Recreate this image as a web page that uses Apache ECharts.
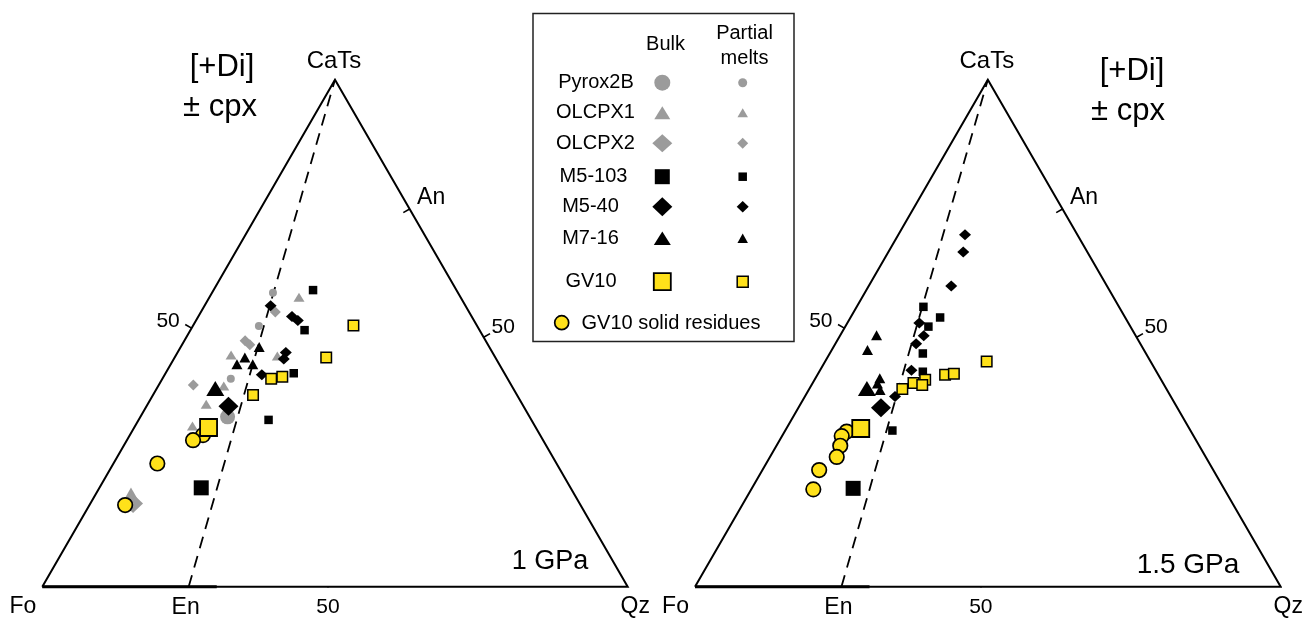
<!DOCTYPE html>
<html>
<head>
<meta charset="utf-8">
<script src="https://cdn.jsdelivr.net/npm/echarts@6/dist/echarts.min.js"></script>
<style>
  html, body { margin: 0; padding: 0; background: #fff; }
  #chart { width: 1309px; height: 620px; }
</style>
</head>
<body>
<div id="chart"></div>
<script>
// Projection from [+Di] onto Fo–Qz–CaTs. Every point is [Qz, CaTs] in percent (Fo = 100 − Qz − CaTs).

// ---- 1 GPa ----
const pyrox2bBulk1 = [[14.9, 33.5]];
const pyrox2bMelt1 = [[10.4, 58.0], [11.3, 51.4], [11.7, 41.0]];
const olcpx1Bulk1  = [[6.1, 18.1]];
const olcpx1Melt1  = [[15.3, 57.1], [9.4, 45.7], [17.4, 45.5], [11.2, 39.6], [10.0, 36.0], [9.8, 31.7]];
const olcpx2Bulk1  = [[7.3, 16.4]];
const olcpx2Melt1  = [[12.7, 54.2], [10.4, 48.5], [11.6, 47.7], [5.9, 39.8]];
const m5103Bulk1   = [[17.4, 19.5]];
const m5103Melt1   = [[17.0, 58.5], [19.5, 50.6], [21.9, 42.1], [22.2, 32.9]];
const m540Bulk1    = [[14.0, 35.6]];
const m540Melt1    = [[11.3, 55.4], [16.0, 53.3], [17.4, 52.5], [18.5, 46.2], [18.8, 44.9], [16.6, 41.8]];
const m716Bulk1    = [[10.0, 39.1]];
const m716Melt1    = [[13.4, 47.3], [11.3, 43.9], [12.0, 45.2], [14.0, 43.9]];
const gv10Bulk1    = [[12.7, 31.4]];
const gv10Melt1    = [[27.4, 51.5], [25.9, 45.2], [18.6, 41.0], [20.3, 41.4], [17.1, 37.8]];
const gv10Resid1   = [[12.5, 29.9], [11.3, 28.9], [7.5, 24.3], [6.1, 16.1]];

// ---- 1.5 GPa ----
const m5103Bulk15  = [[17.3, 19.4]];
const m5103Melt15  = [[11.4, 55.2], [15.3, 53.1], [14.2, 51.3], [15.9, 46.0], [17.7, 42.4], [18.3, 30.8]];
const m540Bulk15   = [[14.1, 35.3]];
const m540Melt15   = [[11.4, 69.4], [12.8, 66.0], [14.1, 59.3], [12.3, 52.0], [14.3, 49.5], [13.8, 47.9], [15.6, 42.7], [15.4, 37.5]];
const m716Bulk15   = [[9.8, 39.1]];
const m716Melt15   = [[6.2, 49.6], [6.1, 46.7], [11.0, 41.1], [11.1, 40.1], [12.2, 38.8]];
const gv10Bulk15   = [[12.7, 31.2]];
const gv10Melt15   = [[27.6, 44.4], [21.8, 41.8], [23.2, 42.0], [18.9, 40.8], [17.2, 40.2], [18.9, 39.8], [15.9, 39.0]];
const gv10Resid15  = [[10.6, 30.6], [10.2, 29.7], [10.9, 27.8], [11.4, 25.6], [9.7, 23.0], [10.6, 19.2]];

// Apex and join labels, tick positions along the edges
const apexNames   = ['Fo', 'Qz', 'CaTs'];
const joinNames   = ['En', 'An'];
const enOnBase    = 25;     // En on the Fo–Qz join (% Qz)
const anOnSide    = 74.5;   // An on the CaTs–Qz join (% CaTs)
const tickBase    = 48.8;   // "50" on the Fo–Qz join
const tickLeft    = 51;     // "50" on the Fo–CaTs join
const tickRight   = 49.2;   // "50" on the CaTs–Qz join
const tickText    = '50';
const panelTitles = ['1 GPa', '1.5 GPa'];
const legendNames = ['Pyrox2B', 'OLCPX1', 'OLCPX2', 'M5-103', 'M5-40', 'M7-16', 'GV10'];

const SQ = Math.sqrt(3) / 2;
const FONT = '"Liberation Sans", Arial, Helvetica, sans-serif';
const GRAY = '#9b9b9b';
const YEL = '#ffe11a';

// ternary [Qz, CaTs] -> cartesian [x, y] with Fo at the origin and Qz at x = 100
function toXY(p) { return [p[0] + p[1] / 2, p[1] * SQ]; }

const STY = {
  pyroxBulk: { symbol: 'circle',   size: 15,       color: GRAY },
  pyroxMelt: { symbol: 'circle',   size: 8,        color: GRAY },
  olc1Bulk:  { symbol: 'triangle', size: [17, 15], color: GRAY },
  olc1Melt:  { symbol: 'triangle', size: [11, 9],  color: GRAY },
  olc2Bulk:  { symbol: 'diamond',  size: [20, 19], color: GRAY },
  olc2Melt:  { symbol: 'diamond',  size: [11, 11], color: GRAY },
  m103Bulk:  { symbol: 'rect',     size: 15,       color: '#000' },
  m103Melt:  { symbol: 'rect',     size: 8.5,      color: '#000' },
  m40Bulk:   { symbol: 'diamond',  size: [20, 19], color: '#000' },
  m40Melt:   { symbol: 'diamond',  size: [12, 11], color: '#000' },
  m16Bulk:   { symbol: 'triangle', size: [18, 15], color: '#000' },
  m16Melt:   { symbol: 'triangle', size: [11, 10], color: '#000' },
  gvBulk:    { symbol: 'rect',     size: 17,       color: YEL, border: 1.8 },
  gvMelt:    { symbol: 'rect',     size: 10.5,     color: YEL, border: 1.5 },
  gvResid:   { symbol: 'circle',   size: 14.5,     color: YEL, border: 1.7 }
};

function pts(name, gi, data, st, z) {
  return {
    name: name, type: 'scatter', xAxisIndex: gi, yAxisIndex: gi,
    data: data.map(toXY), symbol: st.symbol, symbolSize: st.size, z: z,
    itemStyle: { color: st.color, opacity: 1, borderColor: '#000', borderWidth: st.border || 0 },
    silent: true
  };
}

function frameSeries(gi) {
  const s = [];
  const top = toXY([0, 100]);
  s.push({
    type: 'line', xAxisIndex: gi, yAxisIndex: gi, clip: false, silent: true, symbol: 'none', z: 2,
    data: [toXY([0, 0]), toXY([100, 0]), top, toXY([0, 0])],
    lineStyle: { color: '#000', width: 2, join: 'miter' }
  });
  // Fo–En segment drawn slightly heavier
  s.push({
    type: 'line', xAxisIndex: gi, yAxisIndex: gi, clip: false, silent: true, symbol: 'none', z: 2,
    data: [toXY([0, 0]), toXY([29.8, 0])],
    lineStyle: { color: '#000', width: 3 }
  });
  // En–CaTs join
  s.push({
    type: 'line', xAxisIndex: gi, yAxisIndex: gi, clip: false, silent: true, symbol: 'none', z: 2,
    data: [toXY([enOnBase, 0]), top],
    lineStyle: { color: '#000', width: 1.8, type: [12, 8] }
  });
  // edge ticks
  const L = 1.25;
  const ticks = [
    [toXY([tickBase, 0]), [0, -1]],
    [toXY([0, tickLeft]), [-SQ, 0.5]],
    [toXY([100 - tickRight, tickRight]), [SQ, 0.5]],
    [toXY([100 - anOnSide, anOnSide]), [-SQ, -0.5]]
  ];
  s.push({
    type: 'lines', coordinateSystem: 'cartesian2d', xAxisIndex: gi, yAxisIndex: gi, silent: true, z: 2,
    lineStyle: { color: '#000', width: 1.6, opacity: 1, curveness: 0 },
    data: ticks.map(t => ({ coords: [t[0], [t[0][0] + t[1][0] * L, t[0][1] + t[1][1] * L]] }))
  });
  return s;
}

const series = []
  .concat(frameSeries(0), frameSeries(1))
  .concat([
    pts('Pyrox2B', 0, pyrox2bBulk1, STY.pyroxBulk, 5),
    pts('Pyrox2B melts', 0, pyrox2bMelt1, STY.pyroxMelt, 5),
    pts('OLCPX1', 0, olcpx1Bulk1, STY.olc1Bulk, 5),
    pts('OLCPX1 melts', 0, olcpx1Melt1, STY.olc1Melt, 5),
    pts('OLCPX2', 0, olcpx2Bulk1, STY.olc2Bulk, 5),
    pts('OLCPX2 melts', 0, olcpx2Melt1, STY.olc2Melt, 5),
    pts('M5-103', 0, m5103Bulk1, STY.m103Bulk, 6),
    pts('M5-103 melts', 0, m5103Melt1, STY.m103Melt, 6),
    pts('M5-40', 0, m540Bulk1, STY.m40Bulk, 6),
    pts('M5-40 melts', 0, m540Melt1, STY.m40Melt, 6),
    pts('M7-16', 0, m716Bulk1, STY.m16Bulk, 6),
    pts('M7-16 melts', 0, m716Melt1, STY.m16Melt, 6),
    pts('GV10 residues', 0, gv10Resid1, STY.gvResid, 7),
    pts('GV10', 0, gv10Bulk1, STY.gvBulk, 8),
    pts('GV10 melts', 0, gv10Melt1, STY.gvMelt, 8),

    pts('M5-103', 1, m5103Bulk15, STY.m103Bulk, 6),
    pts('M5-103 melts', 1, m5103Melt15, STY.m103Melt, 6),
    pts('M5-40', 1, m540Bulk15, STY.m40Bulk, 6),
    pts('M5-40 melts', 1, m540Melt15, STY.m40Melt, 6),
    pts('M7-16', 1, m716Bulk15, STY.m16Bulk, 6),
    pts('M7-16 melts', 1, m716Melt15, STY.m16Melt, 6),
    pts('GV10 residues', 1, gv10Resid15, STY.gvResid, 7),
    pts('GV10', 1, gv10Bulk15, STY.gvBulk, 8),
    pts('GV10 melts', 1, gv10Melt15, STY.gvMelt, 8)
  ]);

// ---- key box and text ----
function symGraphic(st, cx, cy, w, h) {
  const style = { fill: st.color, stroke: st.border ? '#000' : null, lineWidth: st.border || 0 };
  if (st.symbol === 'circle') return { type: 'circle', shape: { cx: cx, cy: cy, r: w / 2 }, style: style, z: 20 };
  if (st.symbol === 'rect') return { type: 'rect', shape: { x: cx - w / 2, y: cy - h / 2, width: w, height: h }, style: style, z: 20 };
  if (st.symbol === 'triangle') return { type: 'polygon', shape: { points: [[cx, cy - h / 2], [cx + w / 2, cy + h / 2], [cx - w / 2, cy + h / 2]] }, style: style, z: 20 };
  return { type: 'polygon', shape: { points: [[cx, cy - h / 2], [cx + w / 2, cy], [cx, cy + h / 2], [cx - w / 2, cy]] }, style: style, z: 20 };
}
function txt(text, x, y, size, align) {
  return { type: 'text', x: x, y: y, z: 21,
    style: { text: text, fill: '#000', font: size + 'px ' + FONT, align: align || 'center', verticalAlign: 'middle' } };
}

const rowY = [82.7, 112.7, 143.3, 176.7, 206.7, 238.3, 281.7];
const labelX = [596, 595.5, 595.5, 593.5, 590.5, 590.5, 591];
const keyBulk = [
  [STY.pyroxBulk, 16, 16], [STY.olc1Bulk, 16, 13], [STY.olc2Bulk, 20, 18], [STY.m103Bulk, 15, 15],
  [STY.m40Bulk, 20, 19], [STY.m16Bulk, 17, 13.5], [STY.gvBulk, 17, 17]
];
const keyMelt = [
  [STY.pyroxMelt, 9, 9], [STY.olc1Melt, 10.5, 9], [STY.olc2Melt, 11, 11], [STY.m103Melt, 8.5, 8.5],
  [STY.m40Melt, 12, 11.5], [STY.m16Melt, 10.5, 9.5], [STY.gvMelt, 11, 11]
];

const chart = echarts.init(document.getElementById('chart'), null, { renderer: 'canvas' });
chart.setOption({
  animation: false,
  backgroundColor: '#fff',
  textStyle: { fontFamily: FONT },
  grid: [
    { left: 42.3, top: 79.7, width: 585.4, height: 507 },
    { left: 695, top: 79.7, width: 585.7, height: 507 }
  ],
  xAxis: [
    { gridIndex: 0, type: 'value', min: 0, max: 100, show: false },
    { gridIndex: 1, type: 'value', min: 0, max: 100, show: false }
  ],
  yAxis: [
    { gridIndex: 0, type: 'value', min: 0, max: 100 * SQ, show: false },
    { gridIndex: 1, type: 'value', min: 0, max: 100 * SQ, show: false }
  ],
  series: series
});

// apex / join / tick labels placed from the panels' own scales
function axisLabels(gi) {
  const px = p => chart.convertToPixel({ gridIndex: gi }, toXY(p));
  const at = (p, text, dx, dy, size) => { const q = px(p); return txt(text, q[0] + dx, q[1] + dy, size); };
  return [
    at([0, 0], apexNames[0], -19.5, 20, 23),
    at([100, 0], apexNames[1], 7.5, 20, 23),
    at([0, 100], apexNames[2], -1, -18, 24),
    at([enOnBase, 0], joinNames[0], -3, 21, 23),
    at([tickBase, 0], tickText, 0, 21, 21),
    at([0, tickLeft], tickText, -23.5, -7, 21),
    at([100 - tickRight, tickRight], tickText, 19.5, -10, 21),
    at([100 - anOnSide, anOnSide], joinNames[1], 21.5, -11, 23)
  ];
}

const graphic = [
  { type: 'rect', shape: { x: 533, y: 13.5, width: 261, height: 328 }, style: { fill: '#fff', stroke: '#222', lineWidth: 1.5 }, z: 19 },
  txt('Bulk', 665.5, 44, 20),
  txt('Partial', 744.5, 33, 20),
  txt('melts', 744.5, 58, 20),
  symGraphic(STY.gvResid, 561.7, 322.7, 14, 14),
  txt('GV10 solid residues', 581.5, 323, 20, 'left'),
  // panel captions
  txt('[+Di]', 222, 67, 31),
  txt('\u00b1 cpx', 220, 107, 31),
  txt('[+Di]', 1132, 71, 31),
  txt('\u00b1 cpx', 1128, 111, 31),
  txt(panelTitles[0], 550, 562, 27),
  txt(panelTitles[1], 1188, 565, 28)
].concat(axisLabels(0), axisLabels(1));
legendNames.forEach((n, i) => {
  graphic.push(txt(n, labelX[i], rowY[i], 20));
  graphic.push(symGraphic(keyBulk[i][0], 662.3, rowY[i], keyBulk[i][1], keyBulk[i][2]));
  graphic.push(symGraphic(keyMelt[i][0], 742.7, rowY[i], keyMelt[i][1], keyMelt[i][2]));
});

chart.setOption({ graphic: graphic });
</script>
</body>
</html>
